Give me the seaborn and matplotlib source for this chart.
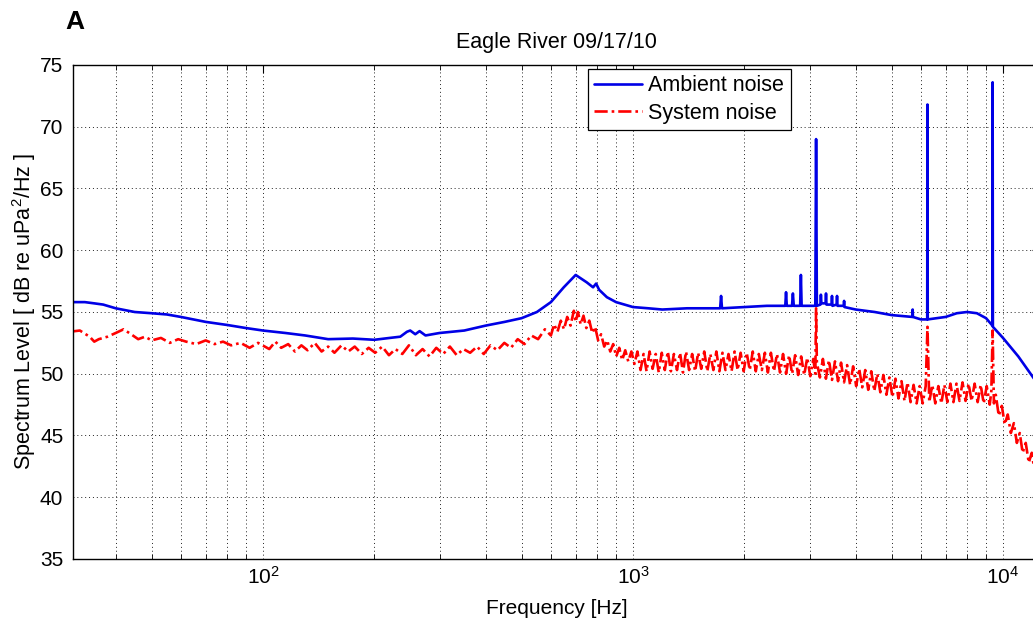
import matplotlib
matplotlib.use("Agg")
import matplotlib.pyplot as plt
import seaborn as sns
import numpy as np
from matplotlib.ticker import LogLocator, NullFormatter

# ---------------- data ----------------
amb_freq = [30, 33, 35, 37, 40, 45, 50, 55, 60, 70, 80, 90, 100, 115, 130, 150, 175, 200,
            220, 235, 245, 250, 258, 265, 275, 300, 350, 400, 450, 500, 550, 600, 650, 700,
            750, 780, 795, 810, 850, 900, 1000, 1100, 1200, 1400, 1600, 1720, 1730, 1740,
            2000, 2300, 2580, 2592, 2604, 2690, 2705, 2720, 2830, 2843, 2856, 3110, 3125,
            3140, 3210, 3220, 3230, 3315, 3324, 3333, 3440, 3450, 3460, 3550, 3560, 3570,
            3710, 3720, 3730, 4000, 4500, 5000, 5690, 5700, 5710, 6000, 6240, 6250, 6260,
            7000, 7500, 8000, 8500, 9000, 9360, 9375, 9390, 10000, 11000, 12000, 12600]
amb_level = [55.8, 55.8, 55.7, 55.6, 55.3, 55.0, 54.9, 54.8, 54.6, 54.2, 53.95, 53.7, 53.5,
             53.3, 53.1, 52.8, 52.85, 52.75, 52.9, 53.0, 53.4, 53.5, 53.2, 53.45, 53.1, 53.3,
             53.5, 53.9, 54.2, 54.5, 55.0, 55.8, 57.0, 58.0, 57.4, 57.0, 57.3, 56.8, 56.2,
             55.8, 55.4, 55.3, 55.2, 55.3, 55.3, 55.3, 56.3, 55.3, 55.4, 55.5, 55.5, 56.6,
             55.5, 55.5, 56.5, 55.5, 55.5, 58.0, 55.5, 55.5, 69.0, 55.5, 55.6, 56.4, 55.7,
             55.7, 56.5, 55.6, 55.6, 56.3, 55.5, 55.6, 56.3, 55.5, 55.5, 55.9, 55.4, 55.2,
             55.0, 54.75, 54.6, 55.2, 54.6, 54.4, 54.4, 71.8, 54.4, 54.6, 54.9, 55.0, 54.9,
             54.5, 53.9, 73.6, 53.8, 52.9, 51.4, 49.8, 48.9]

sys_freq = [30, 32, 34, 35, 36, 38, 40, 42, 44, 46, 48, 50, 53, 56, 59, 62, 66, 70, 74, 78,
            82, 87, 92, 97, 104, 108, 112, 117, 122, 127, 132, 138, 144, 150, 156, 163, 170,
            177, 185, 193, 201, 210, 219, 228, 238, 248, 259, 270, 282, 294, 307, 320, 334,
            348, 363, 379, 395, 412, 430, 449, 468, 488, 509, 531, 554, 578,
            600, 612, 625, 638, 651, 664, 678, 692, 700, 710, 722, 735, 748, 762, 776, 790,
            805, 820, 836, 852, 868, 884, 901, 918, 935, 953, 971, 990, 1009, 1028,
            1048, 1068, 1088, 1109, 1130, 1152, 1174, 1196, 1219, 1242, 1266, 1290, 1315,
            1340, 1365, 1391, 1418, 1445, 1472, 1500, 1529, 1558, 1588, 1618, 1649, 1680,
            1712, 1745, 1778, 1812, 1847, 1882, 1918, 1954, 1991, 2029, 2068, 2107, 2147,
            2188, 2230, 2272, 2315, 2359, 2404, 2450, 2497, 2544, 2593, 2642, 2692, 2743,
            2795, 2848, 2902, 2958, 3014, 3071, 3110, 3125, 3140,
            3200, 3260, 3322, 3385, 3450, 3515, 3582, 3650, 3719, 3790, 3862, 3935, 4010,
            4086, 4164, 4243, 4323, 4405, 4489, 4574, 4661, 4750, 4840, 4932, 5026, 5121,
            5218, 5317, 5418, 5521, 5626, 5733, 5842, 5953, 6066, 6181, 6250,
            6320, 6440, 6562, 6687, 6814, 6943, 7075, 7209, 7346, 7486, 7628, 7773, 7921,
            8071, 8225, 8381, 8540, 8703, 8868, 9036, 9208, 9300, 9375,
            9450, 9560, 9740, 9925, 10110, 10300, 10500, 10700, 10900, 11100, 11300, 11520,
            11740, 11960, 12190, 12420]
sys_level = [53.4, 53.5, 53.0, 52.6, 52.8, 53.0, 53.3, 53.6, 53.2, 52.8, 53.0, 52.7, 52.9,
             52.5, 52.8, 52.6, 52.4, 52.7, 52.4, 52.6, 52.3, 52.5, 52.1, 52.5, 52.0, 52.6,
             52.1, 52.4, 51.8, 52.3, 51.9, 52.5, 51.8, 52.2, 51.7, 52.3, 51.8, 52.2, 51.6,
             52.1, 51.7, 52.2, 51.5, 52.0, 51.6, 52.3, 51.5, 52.0, 51.4, 52.1, 51.6, 52.2,
             51.5, 52.0, 51.7, 52.2, 51.6, 52.3, 51.9, 52.5, 52.1, 52.8, 52.4, 53.1, 52.8,
             53.6,
             53.1, 54.0, 53.4, 54.3, 53.6, 54.6, 53.9, 55.1, 54.2, 55.0, 54.0, 54.7, 53.7,
             54.3, 53.3, 53.8, 52.7, 53.2, 52.2, 52.7, 51.8, 52.4, 51.4, 52.1, 51.1, 51.9,
             51.0, 51.8, 50.8, 51.8,
             50.3, 51.6, 50.2, 51.8, 50.4, 51.6, 50.1, 51.7, 50.3, 51.8, 50.2, 51.6, 50.3,
             51.7, 50.1, 51.8, 50.3, 51.6, 50.2, 51.7, 50.4, 51.8, 50.2, 51.6, 50.3, 51.8,
             50.2, 51.7, 50.3, 51.6, 50.2, 51.8, 50.3, 51.7, 50.2, 51.7, 50.3, 51.8, 50.2,
             51.6, 50.3, 51.7, 50.1, 51.7, 50.2, 51.6, 50.1, 51.6, 50.0, 51.5, 50.0, 51.5,
             49.9, 51.4, 49.9, 51.3, 49.8, 51.2, 50.0, 55.3, 50.9,
             49.7, 51.2, 49.6, 51.1, 49.5, 51.0, 49.4, 50.9, 49.3, 50.7, 49.1, 50.6, 49.0,
             50.4, 48.9, 50.3, 48.7, 50.2, 48.6, 50.0, 48.5, 49.9, 48.3, 49.7, 48.1, 49.6,
             48.0, 49.4, 47.8, 49.3, 47.7, 49.1, 47.6, 49.0, 47.6, 49.0, 53.8,
             47.7, 49.1, 47.6, 49.0, 47.6, 49.1, 47.7, 49.2, 47.7, 49.2, 47.8, 49.3, 47.8,
             49.2, 47.8, 49.2, 47.7, 49.1, 47.6, 49.0, 47.5, 48.6, 53.5,
             47.6, 48.3, 46.6, 47.4, 45.9, 46.7, 45.2, 46.0, 44.4, 45.2, 43.6, 44.4,
             42.8, 43.6, 42.0, 42.6]

y_ticks = [35, 40, 45, 50, 55, 60, 65, 70, 75]
title_text = "Eagle River 09/17/10"
series_names = ["Ambient noise", "System noise"]

# ---------------- figure ----------------
sns.set_style("white")
plt.rcParams['font.family'] = ['Liberation Sans', 'DejaVu Sans']
plt.rcParams['mathtext.fontset'] = 'custom'
plt.rcParams['mathtext.rm'] = 'Liberation Sans'
plt.rcParams['mathtext.it'] = 'Liberation Sans:italic'
for k in ['text.color', 'axes.labelcolor', 'xtick.color', 'ytick.color']:
    plt.rcParams[k] = 'black'

W, H = 1033, 622
fig = plt.figure(figsize=(W / 100, H / 100), dpi=100)
left_px, right_px, top_px, bot_px = 73, 1040, 65, 559
ax = fig.add_axes([left_px / W, 1 - bot_px / H, (right_px - left_px) / W, (bot_px - top_px) / H])

sns.lineplot(x=amb_freq, y=amb_level, ax=ax, color='#0000e6', lw=1.9,
             estimator=None, sort=False, label=series_names[0])
sns.lineplot(x=sys_freq, y=sys_level, ax=ax, color='#ff0000', lw=1.9,
             estimator=None, sort=False, label=series_names[1],
             linestyle=(0, (5, 1.5, 1, 1.5)))

ax.set_xscale('log')
ax.set_xlim(30.66, 12589)
ax.set_ylim(35, 75)
ax.set_yticks(y_ticks)
ax.xaxis.set_major_locator(LogLocator(base=10, numticks=10))
ax.xaxis.set_minor_locator(LogLocator(base=10, subs=np.arange(2, 10), numticks=100))
ax.xaxis.set_minor_formatter(NullFormatter())

grid_kw = dict(color='#222222', linestyle=(0, (1, 3)), linewidth=0.7)
ax.grid(True, which='major', axis='both', **grid_kw)
ax.grid(True, which='minor', axis='x', **grid_kw)

for s in ax.spines.values():
    s.set_color('black')
    s.set_linewidth(1.0)
ax.tick_params(axis='both', which='major', direction='in', length=6, width=0.8,
               top=True, right=True, labelsize=15, colors='black')
ax.tick_params(axis='x', which='minor', direction='in', length=3.5, width=0.6,
               top=True, bottom=True)
ax.tick_params(axis='y', which='major', pad=7)
ax.tick_params(axis='x', which='major', pad=5)

ax.set_xlabel("Frequency [Hz]", fontsize=15, labelpad=8)
ax.set_ylabel("Spectrum Level [ dB re uPa$^2$/Hz ]", fontsize=15.5, labelpad=1.5)
ax.set_title(title_text, fontsize=15.5, pad=12)

leg = ax.legend(loc='upper left', bbox_to_anchor=(588 / W, 1 - 69 / H),
                bbox_transform=fig.transFigure, fontsize=15.5, frameon=True,
                fancybox=False, edgecolor='black', framealpha=1, handlelength=2.2,
                borderpad=0.3, labelspacing=0.3, handletextpad=0.3, borderaxespad=0)
leg.get_frame().set_linewidth(0.9)

fig.text(65 / W, 1 - 29 / H, "A", fontsize=19, fontweight='bold', ha='left', va='baseline')

fig.savefig("out.png", dpi=100)
